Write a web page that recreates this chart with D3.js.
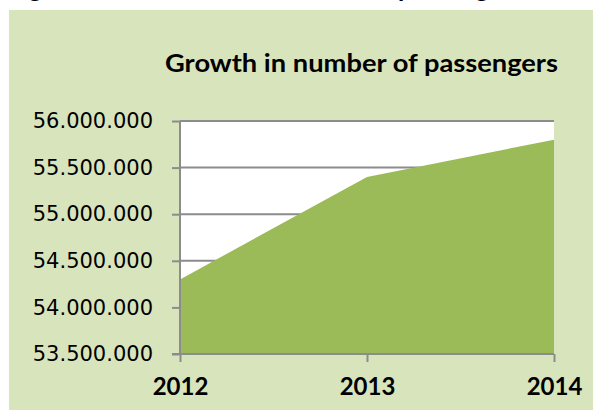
<!DOCTYPE html>
<html>
<head>
<meta charset="utf-8">
<script src="https://cdn.jsdelivr.net/npm/d3@7"></script>
<style>
  html, body { margin: 0; padding: 0; background: #ffffff; }
  svg { display: block; }
</style>
</head>
<body>
<svg id="chart" width="593" height="410"></svg>
<script>
// ---- data ----
const years = ["2012", "2013", "2014"];
const passengers = [54300000, 55400000, 55800000];
const yTicks = [53500000, 54000000, 54500000, 55000000, 55500000, 56000000];
const chartTitle = "Growth in number of passengers";
const captionLead = "Figure 4: Growth in the number of ";
const captionTail = "passengers";

const svg = d3.select("#chart");
const W = 593, H = 410;

// cropped caption above the chart (only descenders visible, as in the reference)
const cap = svg.append("text")
  .attr("x", 8).attr("y", -3)
  .attr("font-family", "Lato").attr("font-weight", "bold").attr("font-size", 27)
  .attr("textLength", 515).attr("lengthAdjust", "spacingAndGlyphs")
  .text(captionLead + captionTail);

// chart panel
svg.append("rect")
  .attr("x", 9).attr("y", 10).attr("width", W - 9).attr("height", H - 10)
  .attr("fill", "#d8e4bc");

const plot = { left: 180, right: 554, top: 121, bottom: 354 };

const x = d3.scalePoint().domain(years).range([plot.left, plot.right]);
const y = d3.scaleLinear().domain([53500000, 56000000]).range([plot.bottom, plot.top]);

// plot area
svg.append("rect")
  .attr("x", plot.left).attr("y", plot.top)
  .attr("width", plot.right - plot.left).attr("height", plot.bottom - plot.top)
  .attr("fill", "#ffffff");

// gridlines
svg.append("g").selectAll("line").data(yTicks.slice(1)).join("line")
  .attr("x1", plot.left).attr("x2", plot.right)
  .attr("y1", d => y(d)).attr("y2", d => y(d))
  .attr("stroke", "#8c8c8c").attr("stroke-width", 2);

// area
const area = d3.area()
  .x((d, i) => x(years[i]))
  .y0(y(53500000))
  .y1(d => y(d));
svg.append("path").datum(passengers)
  .attr("d", area)
  .attr("fill", "#9bbb59");

// y axis
const yAxis = d3.axisLeft(y).tickValues(yTicks).tickSize(8).tickPadding(19)
  .tickFormat(d => d3.format(",")(d).replace(/,/g, "."));
const gy = svg.append("g").attr("transform", `translate(${plot.left},0)`).call(yAxis);
gy.select(".domain").attr("stroke", "#8c8c8c").attr("stroke-width", 2)
  .attr("d", `M0,${plot.top}V${plot.bottom}`);
gy.selectAll(".tick line").attr("stroke", "#8c8c8c").attr("stroke-width", 2);
gy.selectAll(".tick text")
  .attr("font-family", "DejaVu Sans").attr("font-size", 21).attr("fill", "#000");

// x axis
const xAxis = d3.axisBottom(x).tickSize(8).tickPadding(16);
const gx = svg.append("g").attr("transform", `translate(0,${plot.bottom})`).call(xAxis);
gx.select(".domain").attr("stroke", "#8c8c8c").attr("stroke-width", 2)
  .attr("d", `M${plot.left - 8},0H${plot.right}`);
gx.selectAll(".tick line").attr("stroke", "#8c8c8c").attr("stroke-width", 2);
gx.selectAll(".tick text")
  .attr("font-family", "Lato").attr("font-weight", "bold").attr("font-size", 24).attr("fill", "#000");

// title
svg.append("text")
  .attr("x", 165).attr("y", 72)
  .attr("font-family", "Lato").attr("font-weight", "bold").attr("font-size", 25)
  .attr("textLength", 393).attr("lengthAdjust", "spacingAndGlyphs")
  .attr("fill", "#000")
  .text(chartTitle);
</script>
</body>
</html>
